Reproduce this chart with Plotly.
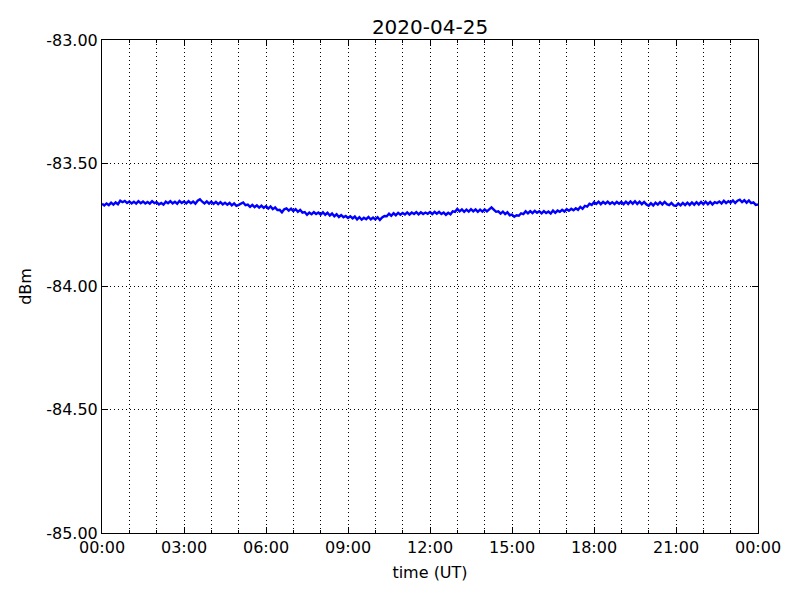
import pandas as pd
import plotly.graph_objects as go

title_text = "2020-04-25"
x_label = "time (UT)"
y_label = "dBm"
y_ticks = [-85.0, -84.5, -84.0, -83.5, -83.0]
start_time = "2020-04-25 00:00"
end_time = "2020-04-26 00:00"
sample_step = "5min"

# signal level (dBm), one value every 5 minutes, rows = hours 00..23, then 24:00
dbm = [
    -83.664, -83.671, -83.663, -83.670, -83.660, -83.668, -83.659, -83.666, -83.652, -83.658, -83.653, -83.661,
    -83.655, -83.663, -83.656, -83.664, -83.654, -83.662, -83.655, -83.663, -83.657, -83.664, -83.654, -83.662,
    -83.658, -83.667, -83.661, -83.668, -83.656, -83.662, -83.654, -83.663, -83.656, -83.664, -83.653, -83.661,
    -83.655, -83.663, -83.654, -83.662, -83.655, -83.664, -83.652, -83.646, -83.656, -83.663, -83.655, -83.664,
    -83.656, -83.665, -83.657, -83.666, -83.658, -83.667, -83.660, -83.668, -83.661, -83.671, -83.663, -83.673,
    -83.669, -83.665, -83.659, -83.670, -83.668, -83.677, -83.669, -83.678, -83.671, -83.680, -83.672, -83.681,
    -83.674, -83.684, -83.675, -83.686, -83.679, -83.690, -83.689, -83.699, -83.687, -83.683, -83.692, -83.684,
    -83.694, -83.686, -83.697, -83.689, -83.700, -83.698, -83.709, -83.700, -83.707, -83.698, -83.706, -83.700,
    -83.708, -83.699, -83.709, -83.701, -83.712, -83.704, -83.715, -83.707, -83.718, -83.710, -83.719, -83.714,
    -83.722, -83.715, -83.724, -83.716, -83.728, -83.719, -83.729, -83.721, -83.727, -83.718, -83.728, -83.720,
    -83.728, -83.719, -83.730, -83.720, -83.714, -83.715, -83.705, -83.713, -83.703, -83.711, -83.701, -83.709,
    -83.702, -83.708, -83.699, -83.708, -83.700, -83.706, -83.698, -83.707, -83.699, -83.706, -83.700, -83.705,
    -83.698, -83.706, -83.697, -83.705, -83.697, -83.706, -83.700, -83.709, -83.701, -83.707, -83.695, -83.697,
    -83.685, -83.695, -83.687, -83.697, -83.688, -83.696, -83.686, -83.695, -83.687, -83.697, -83.688, -83.696,
    -83.687, -83.695, -83.686, -83.679, -83.688, -83.697, -83.695, -83.704, -83.696, -83.706, -83.699, -83.711,
    -83.708, -83.717, -83.711, -83.713, -83.703, -83.706, -83.695, -83.703, -83.694, -83.702, -83.693, -83.701,
    -83.695, -83.703, -83.694, -83.702, -83.696, -83.704, -83.692, -83.701, -83.692, -83.697, -83.689, -83.696,
    -83.686, -83.693, -83.685, -83.691, -83.683, -83.689, -83.677, -83.685, -83.673, -83.676, -83.664, -83.669,
    -83.658, -83.665, -83.656, -83.666, -83.657, -83.664, -83.656, -83.665, -83.658, -83.666, -83.657, -83.664,
    -83.657, -83.666, -83.656, -83.665, -83.655, -83.664, -83.654, -83.665, -83.656, -83.666, -83.657, -83.667,
    -83.672, -83.662, -83.671, -83.660, -83.668, -83.658, -83.667, -83.657, -83.666, -83.670, -83.661, -83.671,
    -83.673, -83.663, -83.671, -83.661, -83.670, -83.660, -83.669, -83.659, -83.668, -83.658, -83.667, -83.657,
    -83.666, -83.656, -83.666, -83.657, -83.667, -83.658, -83.662, -83.655, -83.663, -83.652, -83.662, -83.654,
    -83.660, -83.651, -83.661, -83.652, -83.648, -83.658, -83.650, -83.660, -83.651, -83.662, -83.659, -83.669,
    -83.667,
]

times = pd.date_range(start_time, periods=len(dbm), freq=sample_step)

FONT = "DejaVu Sans"
grid_dash = "1px,3px"

fig = go.Figure()
fig.add_trace(go.Scatter(
    x=times, y=dbm, mode="lines",
    line=dict(color="#0000ff", width=2.4),
    showlegend=False, hoverinfo="skip",
))

fig.update_layout(
    width=800, height=600,
    paper_bgcolor="white", plot_bgcolor="white",
    margin=dict(l=94, r=50, t=32, b=75),
    font=dict(family=FONT, size=16, color="black"),
    title=dict(text=title_text, x=(102 - 8 + 328) / 800, xanchor="center", y=1 - 19 / 600, yanchor="middle",
               font=dict(family=FONT, size=20, color="black")),
)

fig.update_xaxes(
    range=[start_time, end_time],
    type="date",
    dtick=3 * 3600 * 1000,
    tick0=start_time,
    tickformat="%H:%M",
    ticks="inside", ticklen=6, tickcolor="black", tickwidth=1,
    showline=True, linecolor="black", linewidth=1, mirror="ticks",
    showgrid=True, gridcolor="black", gridwidth=1, griddash=grid_dash,
    minor=dict(dtick=3600 * 1000, tick0=start_time, ticks="inside", ticklen=3,
               tickcolor="black", showgrid=True, gridcolor="black", gridwidth=1, griddash=grid_dash),
    zeroline=False,
    title=dict(text=x_label, standoff=10, font=dict(family=FONT, size=16)),
    tickfont=dict(family=FONT, size=16),
)

fig.update_yaxes(
    range=[y_ticks[0], y_ticks[-1]],
    tickvals=y_ticks,
    ticktext=[f"{v:.2f}" for v in y_ticks],
    ticks="inside", ticklen=6, tickcolor="black", tickwidth=1,
    showline=True, linecolor="black", linewidth=1, mirror="ticks",
    showgrid=True, gridcolor="black", gridwidth=1, griddash=grid_dash,
    zeroline=False,
    title=dict(text=y_label, standoff=10, font=dict(family=FONT, size=16)),
    tickfont=dict(family=FONT, size=16),
)

fig.write_html("out.html")
